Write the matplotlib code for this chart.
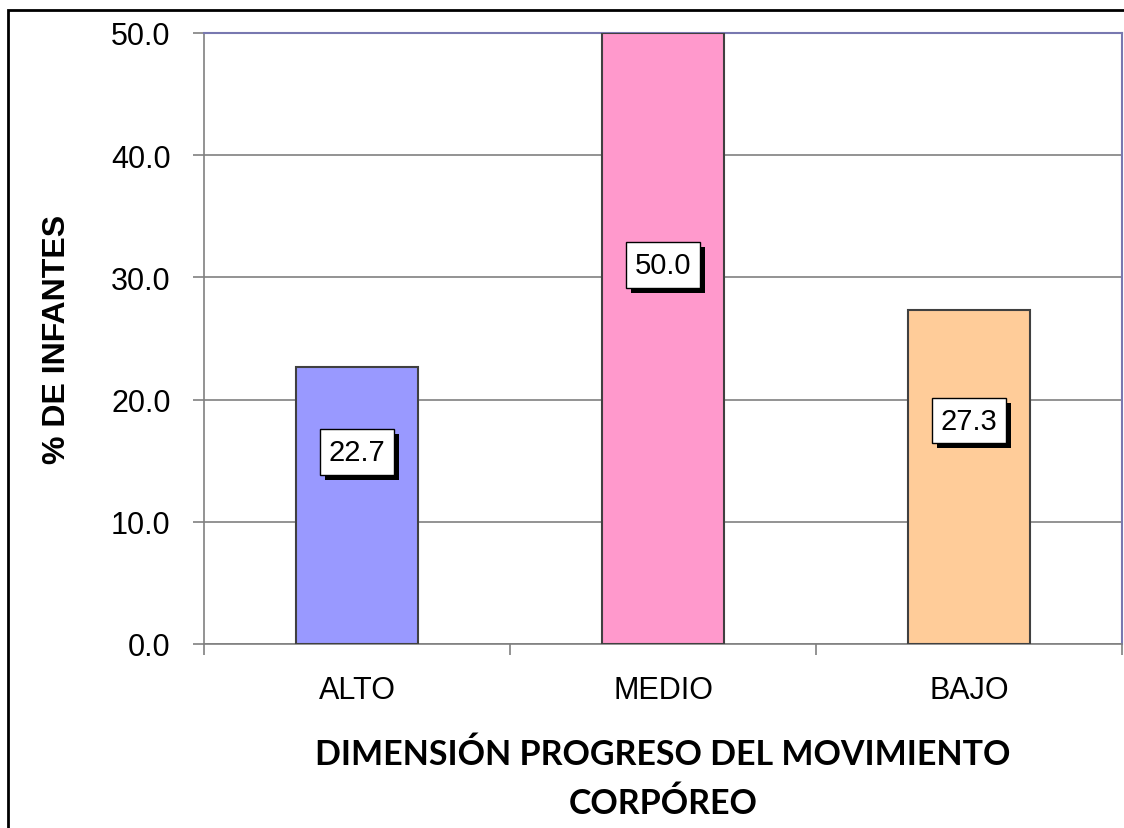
import matplotlib
matplotlib.use('Agg')
import matplotlib.pyplot as plt
import matplotlib.patheffects as pe
from matplotlib.patches import Rectangle

categories = ['ALTO', 'MEDIO', 'BAJO']
values = [22.7, 50.0, 27.3]
bar_colors = ['#9999ff', '#ff99cc', '#ffcc99']
yticks = [0, 10, 20, 30, 40, 50]

plt.rcParams['font.family'] = ['Liberation Sans', 'DejaVu Sans']

fig = plt.figure(figsize=(11.24, 8.29), dpi=100)
ax = fig.add_axes([204/1124, 1-645/829, (1122-204)/1124, (645-34)/829])

x = list(range(len(categories)))
ax.bar(x, values, width=0.4, color=bar_colors, edgecolor='#404040', linewidth=1.5, zorder=3)

ax.set_xlim(-0.5, 2.5)
ax.set_ylim(0, 50)
ax.set_yticks(yticks)
ax.set_yticklabels(['%.1f' % t for t in yticks], fontsize=22)
ax.yaxis.grid(True, color='#808080', linewidth=1.2, zorder=0)
ax.set_axisbelow(True)

# x ticks at category boundaries, labels at centres
ax.set_xticks([-0.5, 0.5, 1.5, 2.5])
ax.set_xticklabels([])
ax.set_xticks(x, minor=True)
ax.set_xticklabels(categories, minor=True, fontsize=22)
ax.tick_params(axis='x', which='major', length=8, color='#808080', width=1.2)
ax.tick_params(axis='x', which='minor', length=0, pad=22)
ax.tick_params(axis='y', length=8, color='#808080', width=1.2, pad=16)

for s in ['left', 'bottom']:
    ax.spines[s].set_color('#808080')
    ax.spines[s].set_linewidth(1.2)
for s in ['top', 'right']:
    ax.spines[s].set_color('#7878b0')
    ax.spines[s].set_linewidth(1.5)

ax.set_ylabel('% DE INFANTES', fontsize=23, fontweight='bold', labelpad=28)
ax.set_xlabel('DIMENSIÓN PROGRESO DEL MOVIMIENTO\nCORPÓREO', fontsize=24.5,
              fontweight='bold', family=['Lato', 'DejaVu Sans'], labelpad=24,
              linespacing=1.6)

for xi, v in zip(x, values):
    ly = v * 0.56 + 3
    t = ax.text(xi, ly, '%.1f' % v, ha='center', va='center', fontsize=21,
                color='black', zorder=5,
                bbox=dict(boxstyle='square,pad=0.3', facecolor='white',
                          edgecolor='black', linewidth=1))
    t.get_bbox_patch().set_path_effects(
        [pe.SimplePatchShadow(offset=(3.6, -3.6), shadow_rgbFace='black', alpha=1.0),
         pe.Normal()])

fig.patches.append(Rectangle((8/1124, -0.1), 1.2, 1 - 11/829 + 0.1, transform=fig.transFigure,
                             fill=False, edgecolor='black', linewidth=2, zorder=0))

fig.savefig('out.png', dpi=100)
